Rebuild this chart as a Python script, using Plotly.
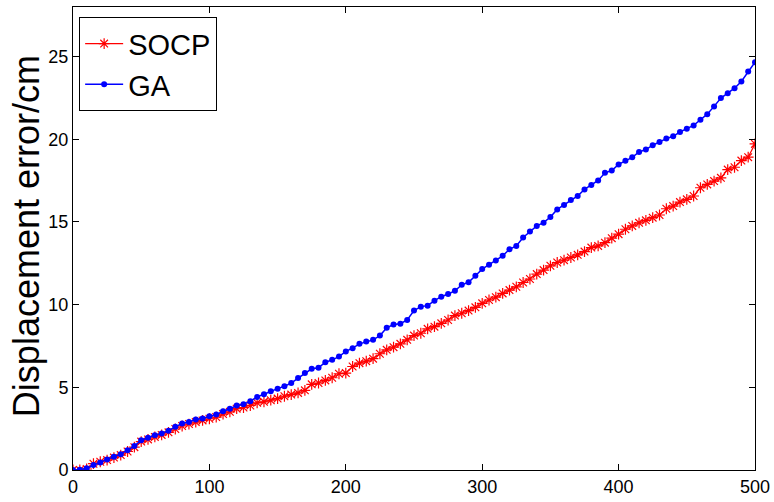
import plotly.graph_objects as go

x_vals = list(range(0, 501, 5))

socp = [0.0, 0.0, 0.06, 0.38, 0.5, 0.6, 0.75, 0.9, 1.12, 1.38,
        1.72, 1.85, 2.0, 2.12, 2.28, 2.48, 2.66, 2.78, 2.9, 3.0,
        3.1, 3.2, 3.38, 3.52, 3.71, 3.78, 3.9, 4.06, 4.12, 4.22,
        4.32, 4.46, 4.56, 4.66, 4.82, 5.18, 5.26, 5.42, 5.58, 5.82,
        5.86, 6.26, 6.46, 6.58, 6.73, 7.03, 7.27, 7.43, 7.63, 7.87,
        8.13, 8.27, 8.54, 8.67, 8.87, 9.07, 9.34, 9.48, 9.64, 9.84,
        10.08, 10.28, 10.45, 10.68, 10.88, 11.08, 11.34, 11.55, 11.85, 12.09,
        12.35, 12.55, 12.69, 12.85, 13.01, 13.21, 13.45, 13.55, 13.75, 14.02,
        14.26, 14.56, 14.76, 14.95, 15.1, 15.26, 15.42, 15.8, 15.96, 16.2,
        16.37, 16.57, 17.07, 17.27, 17.47, 17.67, 18.17, 18.31, 18.71, 18.92,
        19.72]

ga = [0.0, 0.02, 0.1, 0.3, 0.46, 0.64, 0.8, 0.96, 1.2, 1.45,
      1.8, 1.95, 2.1, 2.2, 2.37, 2.61, 2.81, 2.91, 3.05, 3.11,
      3.25, 3.35, 3.55, 3.7, 3.9, 3.97, 4.16, 4.42, 4.58, 4.76,
      4.92, 5.06, 5.26, 5.56, 5.86, 6.12, 6.18, 6.52, 6.66, 6.86,
      7.17, 7.37, 7.63, 7.77, 7.87, 8.13, 8.6, 8.8, 8.85, 9.07,
      9.64, 9.88, 9.94, 10.24, 10.48, 10.64, 10.84, 11.2, 11.35, 11.75,
      12.15, 12.42, 12.67, 12.95, 13.35, 13.55, 14.06, 14.42, 14.76, 14.96,
      15.3, 15.76, 16.02, 16.33, 16.57, 16.97, 17.23, 17.51, 17.97, 18.11,
      18.48, 18.7, 18.91, 19.23, 19.38, 19.64, 19.84, 20.04, 20.18, 20.44,
      20.64, 20.84, 21.18, 21.52, 21.99, 22.49, 22.79, 23.09, 23.5, 24.1,
      24.66]

x_ticks = [0, 100, 200, 300, 400, 500]
y_ticks = [0, 5, 10, 15, 20, 25]
y_title = "Displacement error/cm"

fig = go.Figure()
fig.add_trace(go.Scatter(
    x=x_vals, y=socp, name="SOCP", mode="lines+markers",
    line=dict(color="#ff0000", width=1.2),
    marker=dict(symbol="asterisk-open", size=9, color="#ff0000",
                line=dict(color="#ff0000", width=1.2)),
))
fig.add_trace(go.Scatter(
    x=x_vals, y=ga, name="GA", mode="lines+markers",
    line=dict(color="#0000ff", width=1.5),
    marker=dict(symbol="circle", size=6, color="#0000ff"),
))

axis_common = dict(
    showgrid=False, zeroline=False, showline=True, linecolor="black",
    linewidth=1, mirror="ticks", ticks="inside", ticklen=6,
    tickcolor="black", tickwidth=1, automargin=False,
    tickfont=dict(family="Liberation Sans, Arial", size=18, color="black"),
)

fig.update_layout(
    width=774, height=502,
    margin=dict(l=73, r=19, t=7, b=32),
    paper_bgcolor="white", plot_bgcolor="white",
    showlegend=True,
    legend=dict(
        x=0.009, y=0.978, xanchor="left", yanchor="top",
        bordercolor="black", borderwidth=1, bgcolor="white",
        font=dict(family="Liberation Sans, Arial", size=29, color="black"),
        tracegroupgap=0, itemwidth=38,
    ),
    xaxis=dict(range=[0, 500], tickvals=x_ticks, **axis_common),
    yaxis=dict(range=[0, 28], tickvals=y_ticks, **axis_common),
    annotations=[dict(
        text=y_title, textangle=-90, showarrow=False,
        xref="paper", yref="paper", x=-0.069, y=0.505,
        xanchor="center", yanchor="middle",
        font=dict(family="Liberation Sans, Arial", size=36, color="black"),
    )],
)

fig.write_html(
    "out.html",
    config={"displayModeBar": False},
    post_script="document.body.style.margin='0';document.body.style.overflow='hidden';",
)
